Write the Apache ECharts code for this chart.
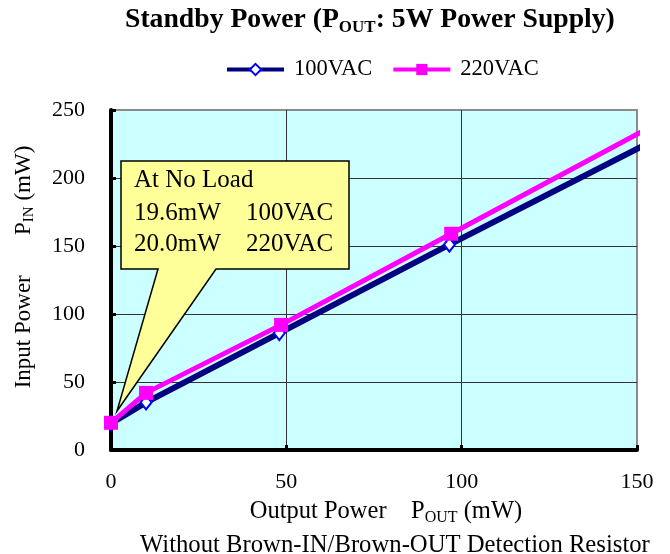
<!DOCTYPE html>
<html>
<head>
<meta charset="utf-8">
<script src="https://cdn.jsdelivr.net/npm/echarts@6/dist/echarts.min.js"></script>
<style>
  html, body { margin: 0; padding: 0; background: #fff; }
  #main { width: 670px; height: 554px; }
</style>
</head>
<body>
<div id="main"></div>
<script>
// output power (mW) and input power (mW)
var pout100 = [0, 10, 48, 96.5, 152];
var pin100 = [19.6, 35, 86, 151, 224];
var pout220 = [0, 10, 48.5, 97, 152];
var pin220 = [20, 42, 92, 159, 235];
var xTicks = [0, 50, 100, 150];
var yTicks = [0, 50, 100, 150, 200, 250];

var serif = 'Liberation Serif, Times New Roman, serif';

function pairs(xs, ys) {
  return xs.map(function (x, i) {
    var item = { value: [x, ys[i]] };
    // last point only carries the line past the frame, no marker there
    if (i === xs.length - 1) item.symbol = 'none';
    return item;
  });
}

var chart = echarts.init(document.getElementById('main'));

chart.setOption({
  backgroundColor: '#fff',
  textStyle: { fontFamily: serif },
  title: [{
    text: 'Standby Power (P{sub|OUT}: 5W Power Supply)',
    left: 120,
    top: -1,
    textStyle: {
      fontFamily: serif,
      fontSize: 27.7,
      fontWeight: 'bold',
      color: '#000',
      lineHeight: 32,
      rich: {
        sub: { fontFamily: serif, fontSize: 17, fontWeight: 'bold', color: '#000', lineHeight: 17, verticalAlign: 'bottom' }
      }
    }
  }, {
    text: 'Without Brown-IN/Brown-OUT Detection Resistor',
    left: 135,
    top: 528,
    textStyle: { fontFamily: serif, fontSize: 24.7, fontWeight: 'normal', color: '#000' }
  }],
  legend: {
    left: 220,
    top: 53,
    itemWidth: 57,
    itemHeight: 14,
    itemGap: 19,
    lineStyle: { width: 4 },
    textStyle: { fontFamily: serif, fontSize: 22.5, color: '#000', padding: [0, 0, 0, 5] },
    data: ['100VAC', '220VAC']
  },
  grid: {
    left: 111,
    right: 33,
    top: 110,
    bottom: 104,
    outerBoundsMode: 'none',
    containLabel: false,
    show: true,
    backgroundColor: '#CCFFFF',
    borderColor: '#8a8a8a',
    borderWidth: 2
  },
  xAxis: {
    type: 'value',
    min: xTicks[0],
    max: xTicks[xTicks.length - 1],
    interval: 50,
    name: 'Output Power    P{sub|OUT} (mW)',
    nameLocation: 'middle',
    nameGap: 46,
    nameTextStyle: {
      fontFamily: serif, fontSize: 24.5, color: '#000', lineHeight: 28,
      padding: [0, 0, 0, 24],
      rich: { sub: { fontFamily: serif, fontSize: 16, color: '#000', lineHeight: 16, verticalAlign: 'bottom' } }
    },
    axisLine: { show: true, onZero: false, lineStyle: { color: '#000', width: 4 } },
    axisTick: { show: true, inside: true, length: 5, lineStyle: { color: '#000', width: 3 } },
    axisLabel: { fontFamily: serif, fontSize: 22, color: '#000', margin: 21 },
    splitLine: { show: true, showMaxLine: false, lineStyle: { color: '#333', width: 1 } }
  },
  yAxis: {
    type: 'value',
    min: yTicks[0],
    max: yTicks[yTicks.length - 1],
    interval: 50,
    name: 'Input Power       P{sub|IN} (mW)',
    nameLocation: 'middle',
    nameRotate: 90,
    nameGap: 74,
    nameTextStyle: {
      fontFamily: serif, fontSize: 23, color: '#000', lineHeight: 26,
      padding: [0, 0, 0, 26],
      rich: { sub: { fontFamily: serif, fontSize: 15, color: '#000', lineHeight: 15, verticalAlign: 'bottom' } }
    },
    axisLine: { show: true, onZero: false, lineStyle: { color: '#000', width: 4 } },
    axisTick: { show: true, inside: true, length: 5, lineStyle: { color: '#000', width: 3 } },
    axisLabel: { fontFamily: serif, fontSize: 22, color: '#000', margin: 26 },
    splitLine: { show: true, showMaxLine: false, lineStyle: { color: '#333', width: 1 } }
  },
  series: [{
    name: '100VAC',
    type: 'line',
    clip: false,
    symbol: 'diamond',
    symbolSize: [11, 14],
    showAllSymbol: true,
    lineStyle: { color: '#000080', width: 6 },
    itemStyle: { color: '#fff', borderColor: '#0000FF', borderWidth: 2 },
    emphasis: { disabled: true },
    data: pairs(pout100, pin100)
  }, {
    name: '220VAC',
    type: 'line',
    clip: false,
    symbol: 'rect',
    symbolSize: 14,
    showAllSymbol: true,
    lineStyle: { color: '#FF00FF', width: 5 },
    itemStyle: { color: '#FF00FF', borderColor: '#FF00FF', borderWidth: 0 },
    emphasis: { disabled: true },
    data: pairs(pout220, pin220)
  }],
  graphic: [{
    type: 'polygon',
    z: 50,
    shape: {
      points: [[121, 161], [349, 161], [349, 269], [216, 269], [117, 411], [158, 269], [121, 269]]
    },
    style: { fill: '#FFFF99', stroke: '#000', lineWidth: 1.5 }
  }, {
    type: 'text', z: 51, left: 134, top: 168,
    style: { text: 'At No Load', font: '25px ' + serif, fill: '#000' }
  }, {
    type: 'text', z: 51, left: 134, top: 201,
    style: { text: '19.6mW', font: '25px ' + serif, fill: '#000' }
  }, {
    type: 'text', z: 51, left: 246, top: 201,
    style: { text: '100VAC', font: '25px ' + serif, fill: '#000' }
  }, {
    type: 'text', z: 51, left: 134, top: 232,
    style: { text: '20.0mW', font: '25px ' + serif, fill: '#000' }
  }, {
    type: 'text', z: 51, left: 246, top: 232,
    style: { text: '220VAC', font: '25px ' + serif, fill: '#000' }
  }]
});
</script>
</body>
</html>
